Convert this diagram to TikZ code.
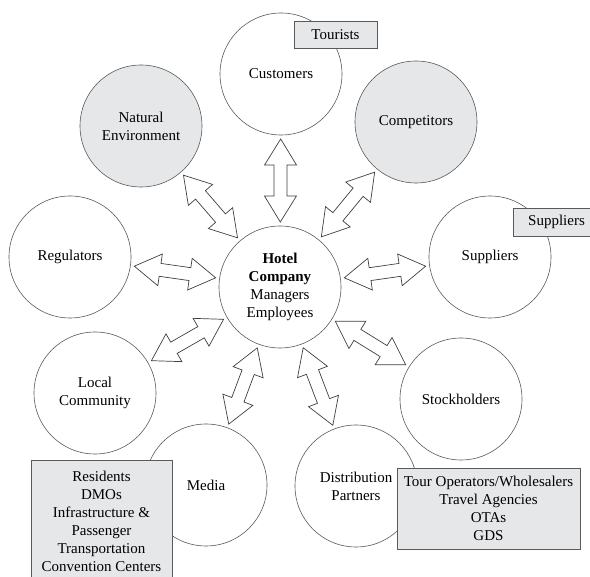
\documentclass[tikz,border=0pt]{standalone}
\usepackage{fontspec}
\setmainfont{Liberation Serif}
\usetikzlibrary{calc}
\definecolor{shade}{HTML}{E6E7E8}
\definecolor{edge}{HTML}{5A5A5A}
\newcommand\dblarrow[2]{%
 \path ($(#1.center)!65pt!(#2.center)$) coordinate (S)
       ($(#2.center)!65pt!(#1.center)$) coordinate (E);
 \path ($(S)!26pt!(E)$) coordinate (SH) ($(E)!26pt!(S)$) coordinate (EH);
 \draw[blockarrow] (S) -- ($(SH)!16pt!90:(E)$) -- ($(SH)!6.5pt!90:(E)$)
   -- ($(EH)!6.5pt!-90:(S)$) -- ($(EH)!16pt!-90:(S)$) -- (E)
   -- ($(EH)!16pt!90:(S)$) -- ($(EH)!6.5pt!90:(S)$)
   -- ($(SH)!6.5pt!-90:(E)$) -- ($(SH)!16pt!-90:(E)$) -- cycle;
}
\begin{document}
\begin{tikzpicture}[x=1pt,y=-1pt, font=\fontsize{15}{18}\selectfont,
 circ/.style={circle, draw=edge, line width=0.6pt, minimum size=122pt, inner sep=0pt, align=center},
 grey/.style={fill=shade},
 tag/.style={draw=edge, line width=0.9pt, fill=shade, align=center, inner sep=0pt},
 blockarrow/.style={draw=black!75, line width=0.7pt, fill=white, line join=miter}]
\clip (0,0) rectangle (590,577);
\useasboundingbox (0,0) rectangle (590,577);
\fill[white] (0,0) rectangle (590,577);
% circles
\node[circ] (hotel) at (280,287) {\textbf{Hotel}\\\textbf{Company}\\Managers\\Employees};
\node[circ] (cust) at (281,74) {Customers};
\node[circ,grey] (nat) at (141,126) {Natural\\Environment};
\node[circ,grey] (comp) at (416,122) {Competitors};
\node[circ] (reg) at (70,257) {Regulators};
\node[circ] (sup) at (490,257) {Suppliers};
\node[circ] (loc) at (95,393) {Local\\Community};
\node[circ] (stock) at (461,399) {Stockholders};
\node[circ] (media) at (206,485) {Media};
\node[circ] (dist) at (356,486) {Distribution\\Partners};
% arrows
\dblarrow{hotel}{cust}
\dblarrow{hotel}{nat}
\dblarrow{hotel}{comp}
\dblarrow{hotel}{reg}
\dblarrow{hotel}{sup}
\dblarrow{hotel}{loc}
\dblarrow{hotel}{stock}
\dblarrow{hotel}{media}
\dblarrow{hotel}{dist}
% tags
\node[tag, minimum width=83pt, minimum height=27pt] (tour) at (335.5,34.5) {Tourists};
\node[tag, minimum width=87pt, minimum height=28pt] (supbox) at (556.5,222) {Suppliers};
\node[tag, minimum width=141pt, minimum height=122pt, anchor=north] (resbox) at (101.5,460)
  {Residents\\DMOs\\Infrastructure \&\\Passenger\\Transportation\\Convention Centers};
\node[tag, minimum width=183pt, minimum height=81pt] (distbox) at (488.5,508.5)
  {Tour Operators/Wholesalers\\Travel Agencies\\OTAs\\GDS};
\end{tikzpicture}
\end{document}
